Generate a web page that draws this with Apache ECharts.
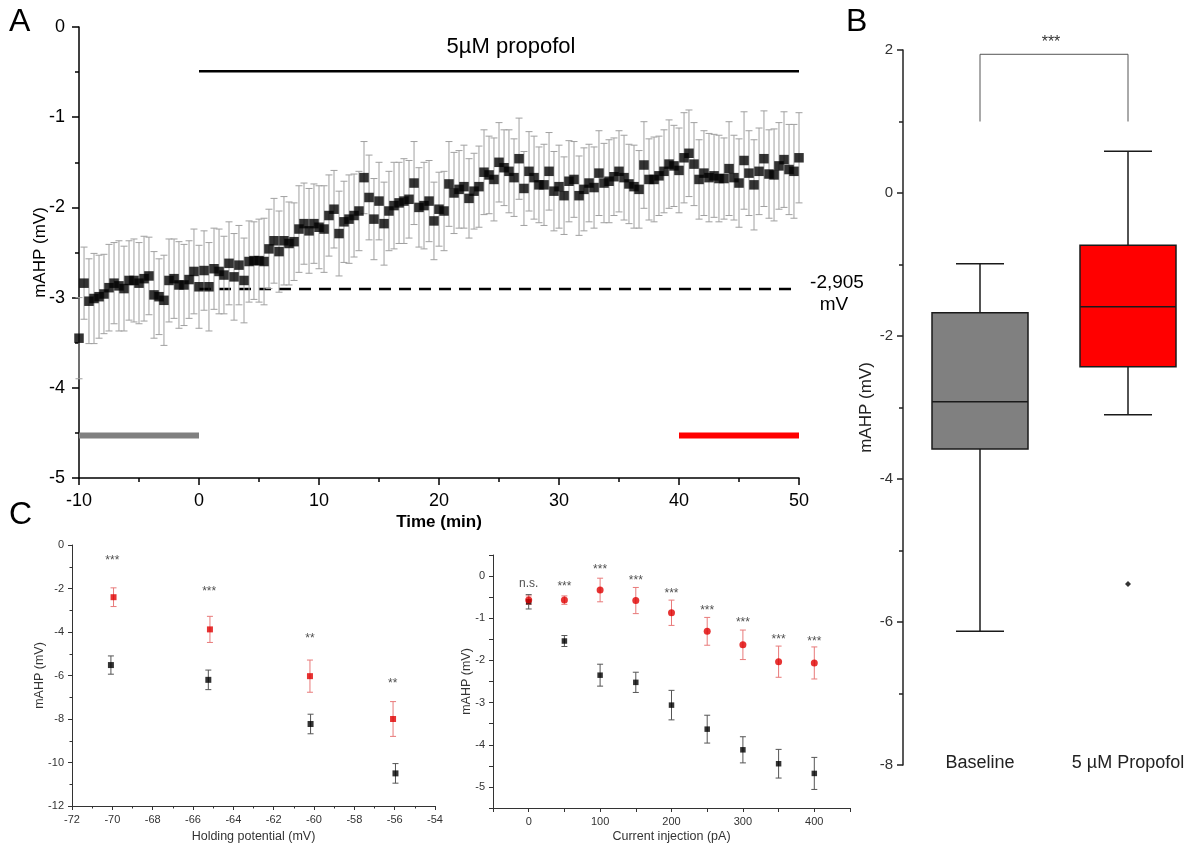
<!DOCTYPE html>
<html><head><meta charset="utf-8">
<script src="https://cdn.jsdelivr.net/npm/echarts@6/dist/echarts.min.js"></script>
<style>html,body{margin:0;padding:0;background:#fff}#c{width:1189px;height:845px}</style>
</head><body><div id="c"></div>
<script>
// ---------- Panel A: mAHP time course ----------
const timeMin = [
 -10, -9.58, -9.17, -8.75, -8.33, -7.92, -7.5, -7.08, -6.67, -6.25, -5.83, -5.42,
 -5, -4.58, -4.17, -3.75, -3.33, -2.92, -2.5, -2.08, -1.67, -1.25, -0.83, -0.42,
 0, 0.42, 0.83, 1.25, 1.67, 2.08, 2.5, 2.92, 3.33, 3.75, 4.17, 4.58,
 5, 5.42, 5.83, 6.25, 6.67, 7.08, 7.5, 7.92, 8.33, 8.75, 9.17, 9.58,
 10, 10.42, 10.83, 11.25, 11.67, 12.08, 12.5, 12.92, 13.33, 13.75, 14.17, 14.58,
 15, 15.42, 15.83, 16.25, 16.67, 17.08, 17.5, 17.92, 18.33, 18.75, 19.17, 19.58,
 20, 20.42, 20.83, 21.25, 21.67, 22.08, 22.5, 22.92, 23.33, 23.75, 24.17, 24.58,
 25, 25.42, 25.83, 26.25, 26.67, 27.08, 27.5, 27.92, 28.33, 28.75, 29.17, 29.58,
 30, 30.42, 30.83, 31.25, 31.67, 32.08, 32.5, 32.92, 33.33, 33.75, 34.17, 34.58,
 35, 35.42, 35.83, 36.25, 36.67, 37.08, 37.5, 37.92, 38.33, 38.75, 39.17, 39.58,
 40, 40.42, 40.83, 41.25, 41.67, 42.08, 42.5, 42.92, 43.33, 43.75, 44.17, 44.58,
 45, 45.42, 45.83, 46.25, 46.67, 47.08, 47.5, 47.92, 48.33, 48.75, 49.17, 49.58,
 50
];
const mahpMean = [
 -3.45, -2.84, -3.04, -3.01, -2.99, -2.96, -2.89, -2.84, -2.87, -2.90, -2.81, -2.81,
 -2.84, -2.79, -2.76, -2.97, -2.99, -3.03, -2.81, -2.79, -2.86, -2.86, -2.80, -2.71,
 -2.88, -2.70, -2.88, -2.68, -2.71, -2.75, -2.62, -2.77, -2.64, -2.81, -2.60, -2.59,
 -2.59, -2.60, -2.46, -2.37, -2.49, -2.37, -2.40, -2.38, -2.24, -2.18, -2.26, -2.18,
 -2.22, -2.24, -2.09, -2.02, -2.29, -2.16, -2.13, -2.09, -2.04, -1.67, -1.89, -2.13,
 -1.93, -2.18, -2.04, -1.98, -1.95, -1.93, -1.91, -1.73, -2.00, -1.98, -1.93, -2.15,
 -2.02, -2.04, -1.74, -1.84, -1.80, -1.77, -1.90, -1.82, -1.77, -1.61, -1.64, -1.69,
 -1.50, -1.56, -1.60, -1.67, -1.46, -1.79, -1.60, -1.67, -1.75, -1.75, -1.60, -1.82,
 -1.77, -1.87, -1.71, -1.69, -1.87, -1.80, -1.73, -1.78, -1.62, -1.73, -1.71, -1.66,
 -1.60, -1.67, -1.74, -1.77, -1.80, -1.53, -1.69, -1.69, -1.65, -1.60, -1.52, -1.54,
 -1.59, -1.45, -1.40, -1.52, -1.69, -1.62, -1.67, -1.65, -1.68, -1.68, -1.57, -1.67,
 -1.73, -1.48, -1.62, -1.75, -1.60, -1.46, -1.63, -1.64, -1.54, -1.47, -1.58, -1.60,
 -1.45
];
const mahpSem = [
 0.45, 0.40, 0.47, 0.50, 0.46, 0.44, 0.48, 0.45, 0.50, 0.47, 0.44, 0.46,
 0.45, 0.47, 0.43, 0.48, 0.42, 0.50, 0.46, 0.44, 0.48, 0.45, 0.43, 0.47,
 0.46, 0.44, 0.49, 0.45, 0.47, 0.43, 0.46, 0.48, 0.44, 0.47, 0.45, 0.43,
 0.46, 0.48, 0.44, 0.47, 0.45, 0.49, 0.46, 0.43, 0.48, 0.45, 0.47, 0.44,
 0.46, 0.48, 0.45, 0.43, 0.47, 0.45, 0.49, 0.46, 0.44, 0.40, 0.47, 0.45,
 0.43, 0.46, 0.44, 0.48, 0.45, 0.47, 0.43, 0.46, 0.44, 0.48, 0.45, 0.43,
 0.41, 0.44, 0.47, 0.45, 0.43, 0.46, 0.44, 0.42, 0.45, 0.47, 0.43, 0.46,
 0.44, 0.42, 0.46, 0.43, 0.45, 0.41, 0.44, 0.46, 0.42, 0.45, 0.43, 0.44,
 0.46, 0.43, 0.45, 0.42, 0.44, 0.46, 0.43, 0.45, 0.47, 0.44, 0.46, 0.43,
 0.45, 0.47, 0.44, 0.46, 0.43, 0.48, 0.45, 0.47, 0.44, 0.46, 0.49, 0.45,
 0.47, 0.50, 0.48, 0.46, 0.44, 0.47, 0.49, 0.46, 0.48, 0.45, 0.52, 0.47,
 0.49, 0.54, 0.47, 0.50, 0.48, 0.53, 0.49, 0.51, 0.48, 0.53, 0.50, 0.52,
 0.50
];
const propofolSpan = [0, 50];
const propofolBarLevel = -0.49;
const baselineRef = -2.905;
const baselineRefSpan = [0, 50];
const baselineWindow = [-10, 0];
const propofolWindow = [40, 50];
const windowLevel = -4.53;

// ---------- Panel B: box plot ----------
const boxCategories = ['Baseline', '5 µM Propofol'];
const boxMin = [-6.13, -3.10];
const boxQ1 = [-3.58, -2.43];
const boxMedian = [-2.92, -1.59];
const boxQ3 = [-1.675, -0.73];
const boxMax = [-0.99, 0.585];
const boxOutlierCat = [1];
const boxOutlierVal = [-5.47];
const bracketLow = 1.0;
const bracketHigh = 1.94;

// ---------- Panel C left: holding potential ----------
const hpBaselineX = [-70.07, -65.24, -60.17, -55.96];
const hpBaselineY = [-5.52, -6.20, -8.23, -10.50];
const hpBaselineErr = [0.42, 0.45, 0.45, 0.45];
const hpPropofolX = [-69.94, -65.16, -60.20, -56.08];
const hpPropofolY = [-2.40, -3.88, -6.03, -8.00];
const hpPropofolErr = [0.43, 0.60, 0.74, 0.80];
const hpSigX = [-70, -65.2, -60.2, -56.1];
const hpSigY = [-0.64, -2.07, -4.20, -6.30];
const hpSigText = ['***', '***', '**', '**'];

// ---------- Panel C right: current injection ----------
const ciX = [0, 50, 100, 150, 200, 250, 300, 350, 400];
const ciBaselineY = [-0.61, -1.54, -2.35, -2.52, -3.06, -3.63, -4.12, -4.45, -4.68];
const ciBaselineErr = [0.17, 0.13, 0.26, 0.24, 0.35, 0.33, 0.31, 0.34, 0.38];
const ciPropofolY = [-0.57, -0.57, -0.33, -0.58, -0.87, -1.31, -1.63, -2.03, -2.06];
const ciPropofolErr = [0.10, 0.10, 0.28, 0.31, 0.30, 0.33, 0.35, 0.37, 0.38];
const ciSigY = [-0.14, -0.21, 0.20, -0.06, -0.36, -0.78, -1.06, -1.45, -1.50];
const ciSigText = ['n.s.', '***', '***', '***', '***', '***', '***', '***', '***'];

// ---------- build ----------
const FONT = '"Liberation Sans", Arial, Helvetica, sans-serif';
const zip2 = (a, b) => a.map((v, i) => [v, b[i]]);
const zip3 = (a, b, c) => a.map((v, i) => [v, b[i], c[i]]);
const labelPts = (xs, ys, ts) => xs.map((x, i) => ({ name: ts[i], value: [x, ys[i]] }));

function errorBars(color, capHalf, lw) {
  return function (params, api) {
    const x = api.value(0), y = api.value(1), e = api.value(2);
    const top = api.coord([x, y + e]);
    const bot = api.coord([x, y - e]);
    const st = () => ({ stroke: color, lineWidth: lw });
    return { type: 'group', children: [
      { type: 'line', shape: { x1: top[0], y1: top[1], x2: bot[0], y2: bot[1] }, style: st() },
      { type: 'line', shape: { x1: top[0] - capHalf, y1: top[1], x2: top[0] + capHalf, y2: top[1] }, style: st() },
      { type: 'line', shape: { x1: bot[0] - capHalf, y1: bot[1], x2: bot[0] + capHalf, y2: bot[1] }, style: st() }
    ] };
  };
}

const boxFill = ['#808080', '#ff0000'];
const BOX_HALF = 48, CAP_HALF = 24;
function boxRender(params, api) {
  const c = api.value(0);
  const lo = api.coord([c, api.value(1)]);
  const q1 = api.coord([c, api.value(2)]);
  const md = api.coord([c, api.value(3)]);
  const q3 = api.coord([c, api.value(4)]);
  const hi = api.coord([c, api.value(5)]);
  const x = lo[0];
  const ln = () => ({ stroke: '#1a1a1a', lineWidth: 1.5 });
  return { type: 'group', children: [
    { type: 'line', shape: { x1: x, y1: q3[1], x2: x, y2: hi[1] }, style: ln() },
    { type: 'line', shape: { x1: x - CAP_HALF, y1: hi[1], x2: x + CAP_HALF, y2: hi[1] }, style: ln() },
    { type: 'line', shape: { x1: x, y1: q1[1], x2: x, y2: lo[1] }, style: ln() },
    { type: 'line', shape: { x1: x - CAP_HALF, y1: lo[1], x2: x + CAP_HALF, y2: lo[1] }, style: ln() },
    { type: 'rect', shape: { x: x - BOX_HALF, y: q3[1], width: 2 * BOX_HALF, height: q1[1] - q3[1] },
      style: { fill: boxFill[params.dataIndex], stroke: '#1a1a1a', lineWidth: 1.5 } },
    { type: 'line', shape: { x1: x - BOX_HALF, y1: md[1], x2: x + BOX_HALF, y2: md[1] }, style: ln() }
  ] };
}

function axisCommon(color, lw, fontSize, labelColor, margin, tickLen) {
  return {
    nameMoveOverlap: false,
    axisLine: { show: true, onZero: false, lineStyle: { color: color, width: lw } },
    axisTick: { show: true, inside: false, length: tickLen, lineStyle: { color: color, width: lw } },
    axisLabel: { fontFamily: FONT, fontSize: fontSize, color: labelColor, margin: margin },
    splitLine: { show: false }
  };
}

const chart = echarts.init(document.getElementById('c'), null, { renderer: 'canvas', width: 1189, height: 845 });

const xA = Object.assign(axisCommon('#000', 1.5, 18, '#000', 14, 7), {
  type: 'value', gridIndex: 0, min: -10, max: 50, interval: 10,
  minorTick: { show: true, splitNumber: 2, length: 4, lineStyle: { color: '#000', width: 1.5 } },
  name: 'Time (min)', nameLocation: 'middle', nameGap: 36,
  nameTextStyle: { fontFamily: FONT, fontSize: 17, fontWeight: 'bold', color: '#000' }
});
const yA = Object.assign(axisCommon('#000', 1.5, 18, '#000', 14, 7), {
  type: 'value', gridIndex: 0, min: -5, max: 0, interval: 1,
  minorTick: { show: true, splitNumber: 2, length: 4, lineStyle: { color: '#000', width: 1.5 } },
  name: 'mAHP (mV)', nameLocation: 'middle', nameGap: 30, nameRotate: 90,
  nameTextStyle: { fontFamily: FONT, fontSize: 17, color: '#000' }
});
const xB = {
  type: 'category', gridIndex: 1, data: boxCategories, boundaryGap: false,
  axisLine: { show: false, onZero: false }, axisTick: { show: false }, splitLine: { show: false },
  axisLabel: { fontFamily: FONT, fontSize: 18, color: '#222', margin: -11 }
};
const yB = Object.assign(axisCommon('#222', 1.5, 15, '#333', 10, 6), {
  type: 'value', gridIndex: 1, min: -8, max: 2, interval: 2, offset: 77,
  minorTick: { show: true, splitNumber: 2, length: 4, lineStyle: { color: '#222', width: 1.5 } },
  name: 'mAHP (mV)', nameLocation: 'middle', nameGap: 28, nameRotate: 90,
  nameTextStyle: { fontFamily: FONT, fontSize: 17, color: '#222' }
});
const xCL = Object.assign(axisCommon('#333', 1, 11, '#333', 8, 4), {
  type: 'value', gridIndex: 2, min: -72, max: -54, interval: 2,
  minorTick: { show: true, splitNumber: 2, length: 2.5, lineStyle: { color: '#333' } },
  name: 'Holding potential (mV)', nameLocation: 'middle', nameGap: 24,
  nameTextStyle: { fontFamily: FONT, fontSize: 12.5, color: '#333' }
});
const yCL = Object.assign(axisCommon('#333', 1, 11, '#333', 8, 4), {
  type: 'value', gridIndex: 2, min: -12, max: 0, interval: 2,
  minorTick: { show: true, splitNumber: 2, length: 2.5, lineStyle: { color: '#333' } },
  name: 'mAHP (mV)', nameLocation: 'middle', nameGap: 26, nameRotate: 90,
  nameTextStyle: { fontFamily: FONT, fontSize: 12.5, color: '#333' }
});
const xCR = Object.assign(axisCommon('#333', 1, 11, '#333', 8, 4), {
  type: 'value', gridIndex: 3, min: -50, max: 450, interval: 50,
  name: 'Current injection (pA)', nameLocation: 'middle', nameGap: 22,
  nameTextStyle: { fontFamily: FONT, fontSize: 12.5, color: '#333' }
});
xCR.axisLabel.formatter = v => (v % 100 === 0 ? String(v) : '');
const yCR = Object.assign(axisCommon('#333', 1, 11, '#333', 8, 4), {
  type: 'value', gridIndex: 3, min: -5.5, max: 0.5, interval: 0.5,
  name: 'mAHP (mV)', nameLocation: 'middle', nameGap: 20, nameRotate: 90,
  nameTextStyle: { fontFamily: FONT, fontSize: 12.5, color: '#333' }
});
yCR.axisLabel.formatter = v => (Number.isInteger(v) ? String(v) : '');

function lineSeg(xi, yi, xs, ys, color, width, type) {
  return { type: 'line', xAxisIndex: xi, yAxisIndex: yi, data: zip2(xs, ys), symbol: 'none', silent: true,
    lineStyle: { color: color, width: width, type: type || 'solid' }, z: 1 };
}
function starLabels(xi, yi, data, fontSize) {
  return { type: 'scatter', xAxisIndex: xi, yAxisIndex: yi, data: data, symbol: 'circle', symbolSize: 1,
    itemStyle: { color: 'rgba(0,0,0,0)' }, silent: true,
    label: { show: true, position: 'inside', formatter: '{b}', fontFamily: FONT, fontSize: fontSize, color: '#222', offset: [0, 2] } };
}

const option = {
  animation: false,
  backgroundColor: '#fff',
  grid: [
    { left: 79, right: 390, top: 27, bottom: 367 },
    { left: 980, right: 61, top: 50, bottom: 80 },
    { left: 72, right: 754, top: 545, bottom: 39 },
    { left: 493, right: 339, top: 555, bottom: 37 }
  ],
  xAxis: [xA, xB, xCL, xCR],
  yAxis: [yA, yB, yCL, yCR],
  graphic: [
    { type: 'text', x: 9, y: 6, style: { text: 'A', font: '32px ' + FONT, fill: '#000' } },
    { type: 'text', x: 846, y: 6, style: { text: 'B', font: '32px ' + FONT, fill: '#000' } },
    { type: 'text', x: 9, y: 499, style: { text: 'C', font: '32px ' + FONT, fill: '#000' } },
    { type: 'text', x: 511, y: 47, style: { text: '5µM propofol', font: '22px ' + FONT, fill: '#000',
        align: 'center', verticalAlign: 'middle', textAlign: 'center', textVerticalAlign: 'middle' } },
    { type: 'text', x: 837, y: 283, style: { text: '-2,905', font: '19px ' + FONT, fill: '#000',
        align: 'center', verticalAlign: 'middle', textAlign: 'center', textVerticalAlign: 'middle' } },
    { type: 'text', x: 834, y: 305, style: { text: 'mV', font: '19px ' + FONT, fill: '#000',
        align: 'center', verticalAlign: 'middle', textAlign: 'center', textVerticalAlign: 'middle' } },
    { type: 'text', x: 1051, y: 43, style: { text: '***', font: '16px ' + FONT, fill: '#333',
        align: 'center', verticalAlign: 'middle', textAlign: 'center', textVerticalAlign: 'middle' } }
  ],
  series: [
    // Panel A
    { type: 'custom', xAxisIndex: 0, yAxisIndex: 0, data: zip3(timeMin, mahpMean, mahpSem),
      renderItem: errorBars('#a0a0a0', 3.5, 1), encode: { x: 0, y: 1 }, silent: true, z: 2 },
    { type: 'scatter', xAxisIndex: 0, yAxisIndex: 0, data: zip2(timeMin, mahpMean), symbol: 'rect',
      symbolSize: 9.5, itemStyle: { color: '#000' }, silent: true, z: 3 },
    lineSeg(0, 0, propofolSpan, [propofolBarLevel, propofolBarLevel], '#000', 2.5),
    lineSeg(0, 0, baselineRefSpan, [baselineRef, baselineRef], '#000', 2.5, [12, 8]),
    lineSeg(0, 0, baselineWindow, [windowLevel, windowLevel], '#808080', 6),
    lineSeg(0, 0, propofolWindow, [windowLevel, windowLevel], '#ff0000', 6),
    // Panel B
    { type: 'custom', xAxisIndex: 1, yAxisIndex: 1,
      data: boxCategories.map((c, i) => [i, boxMin[i], boxQ1[i], boxMedian[i], boxQ3[i], boxMax[i]]),
      renderItem: boxRender, encode: { x: 0, y: [1, 2, 3, 4, 5] }, silent: true, z: 2 },
    { type: 'scatter', xAxisIndex: 1, yAxisIndex: 1, data: zip2(boxOutlierCat, boxOutlierVal),
      symbol: 'diamond', symbolSize: 6, itemStyle: { color: '#000' }, silent: true, z: 3 },
    lineSeg(1, 1, [0, 0, 1, 1], [bracketLow, bracketHigh, bracketHigh, bracketLow], '#555', 1),
    // Panel C left
    { type: 'custom', xAxisIndex: 2, yAxisIndex: 2, data: zip3(hpBaselineX, hpBaselineY, hpBaselineErr),
      renderItem: errorBars('#555', 3, 1), encode: { x: 0, y: 1 }, silent: true, z: 2 },
    { type: 'custom', xAxisIndex: 2, yAxisIndex: 2, data: zip3(hpPropofolX, hpPropofolY, hpPropofolErr),
      renderItem: errorBars('#e87a7a', 3, 1), encode: { x: 0, y: 1 }, silent: true, z: 2 },
    { type: 'scatter', xAxisIndex: 2, yAxisIndex: 2, data: zip2(hpBaselineX, hpBaselineY), symbol: 'rect',
      symbolSize: 6, itemStyle: { color: '#000' }, silent: true, z: 3 },
    { type: 'scatter', xAxisIndex: 2, yAxisIndex: 2, data: zip2(hpPropofolX, hpPropofolY), symbol: 'rect',
      symbolSize: 6, itemStyle: { color: '#e00000' }, silent: true, z: 3 },
    starLabels(2, 2, labelPts(hpSigX, hpSigY, hpSigText), 12),
    // Panel C right
    { type: 'custom', xAxisIndex: 3, yAxisIndex: 3, data: zip3(ciX, ciBaselineY, ciBaselineErr),
      renderItem: errorBars('#555', 3, 1), encode: { x: 0, y: 1 }, silent: true, z: 2 },
    { type: 'custom', xAxisIndex: 3, yAxisIndex: 3, data: zip3(ciX, ciPropofolY, ciPropofolErr),
      renderItem: errorBars('#e87a7a', 3, 1), encode: { x: 0, y: 1 }, silent: true, z: 2 },
    { type: 'scatter', xAxisIndex: 3, yAxisIndex: 3, data: zip2(ciX, ciBaselineY), symbol: 'rect',
      symbolSize: 5.5, itemStyle: { color: '#000' }, silent: true, z: 3 },
    { type: 'scatter', xAxisIndex: 3, yAxisIndex: 3, data: zip2(ciX, ciPropofolY), symbol: 'circle',
      symbolSize: 7, itemStyle: { color: '#e00000' }, silent: true, z: 4 },
    starLabels(3, 3, labelPts(ciX, ciSigY, ciSigText), 12)
  ]
};
chart.setOption(option);
</script>
</body></html>
